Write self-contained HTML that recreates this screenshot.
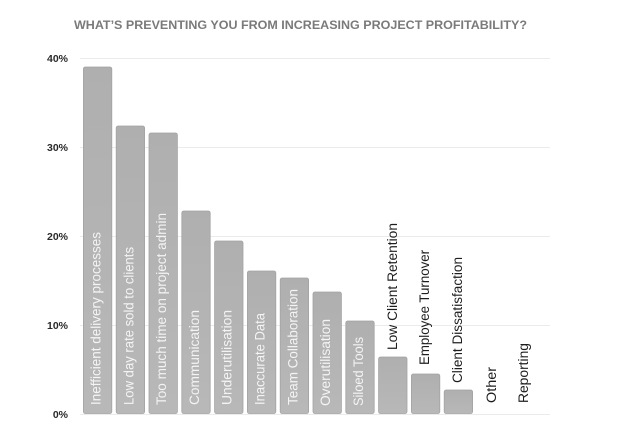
<!DOCTYPE html>
<html>
<head>
<meta charset="utf-8">
<style>
html,body{margin:0;padding:0;background:#fff;}
svg{display:block;}
text{font-family:"Liberation Sans",Arial,sans-serif;}
</style>
</head>
<body>
<svg width="628" height="440" viewBox="0 0 628 440" xmlns="http://www.w3.org/2000/svg">
<rect width="628" height="440" fill="#fff"/>
<text x="300.5" y="29" text-anchor="middle" font-size="11.5" font-weight="bold" fill="#7a7a7a" textLength="453" lengthAdjust="spacingAndGlyphs">WHAT’S PREVENTING YOU FROM INCREASING PROJECT PROFITABILITY?</text>

<g stroke="#ebebeb" stroke-width="1">
<line x1="80" y1="58.5" x2="550" y2="58.5"/>
<line x1="80" y1="147.5" x2="550" y2="147.5"/>
<line x1="80" y1="236.5" x2="550" y2="236.5"/>
<line x1="80" y1="325.5" x2="550" y2="325.5"/>
<line x1="80" y1="414.5" x2="550" y2="414.5"/>
</g>

<g font-size="10.5" font-weight="bold" fill="#2a2a2a" text-anchor="end">
<text x="68" y="62">40%</text>
<text x="68" y="151">30%</text>
<text x="68" y="240">20%</text>
<text x="68" y="329">10%</text>
<text x="68" y="418">0%</text>
</g>

<defs>
<linearGradient id="g" x1="0" y1="0" x2="0" y2="1">
<stop offset="0" stop-color="#afafaf"/>
<stop offset="1" stop-color="#b8b8b8"/>
</linearGradient>
</defs>
<g fill="url(#g)" stroke="#a3a3a3" stroke-width="0.8">
<rect x="83.4" y="67" width="28.4" height="346.5" rx="2"/>
<rect x="116.2" y="126" width="28.4" height="287.5" rx="2"/>
<rect x="149" y="133" width="28.4" height="280.5" rx="2"/>
<rect x="181.8" y="211" width="28.4" height="202.5" rx="2"/>
<rect x="214.6" y="241" width="28.4" height="172.5" rx="2"/>
<rect x="247.4" y="271" width="28.4" height="142.5" rx="2"/>
<rect x="280.2" y="278" width="28.4" height="135.5" rx="2"/>
<rect x="313" y="292" width="28.4" height="121.5" rx="2"/>
<rect x="345.8" y="321" width="28.4" height="92.5" rx="2"/>
<rect x="378.6" y="357" width="28.4" height="56.5" rx="2"/>
<rect x="411.4" y="374" width="28.4" height="39.5" rx="2"/>
<rect x="444.2" y="390" width="28.4" height="23.5" rx="2"/>
</g>

<g font-size="13.5" fill="#f4f4f4">
<text transform="translate(100.5,405) rotate(-90)" textLength="173" lengthAdjust="spacingAndGlyphs">Inefficient delivery processes</text>
<text transform="translate(133.3,405) rotate(-90)" textLength="158" lengthAdjust="spacingAndGlyphs">Low day rate sold to clients</text>
<text transform="translate(166.1,405) rotate(-90)" textLength="192" lengthAdjust="spacingAndGlyphs">Too much time on project admin</text>
<text transform="translate(198.9,405) rotate(-90)" textLength="95" lengthAdjust="spacingAndGlyphs">Communication</text>
<text transform="translate(231.7,405) rotate(-90)" textLength="95" lengthAdjust="spacingAndGlyphs">Underutilisation</text>
<text transform="translate(264.5,405) rotate(-90)" textLength="92" lengthAdjust="spacingAndGlyphs">Inaccurate Data</text>
<text transform="translate(297.3,405) rotate(-90)" textLength="116" lengthAdjust="spacingAndGlyphs">Team Collaboration</text>
<text transform="translate(330.1,406) rotate(-90)" textLength="87" lengthAdjust="spacingAndGlyphs">Overutilisation</text>
<text transform="translate(362.9,406) rotate(-90)" textLength="69" lengthAdjust="spacingAndGlyphs">Siloed Tools</text>
</g>
<g font-size="13.5" fill="#1e1e1e">
<text transform="translate(397,350) rotate(-90)" textLength="127" lengthAdjust="spacingAndGlyphs">Low Client Retention</text>
<text transform="translate(429,365) rotate(-90)" textLength="115" lengthAdjust="spacingAndGlyphs">Employee Turnover</text>
<text transform="translate(462,383) rotate(-90)" textLength="126" lengthAdjust="spacingAndGlyphs">Client Dissatisfaction</text>
<text transform="translate(496,403) rotate(-90)" textLength="36" lengthAdjust="spacingAndGlyphs">Other</text>
<text transform="translate(528,403) rotate(-90)" textLength="60" lengthAdjust="spacingAndGlyphs">Reporting</text>
</g>
</svg>
</body>
</html>
